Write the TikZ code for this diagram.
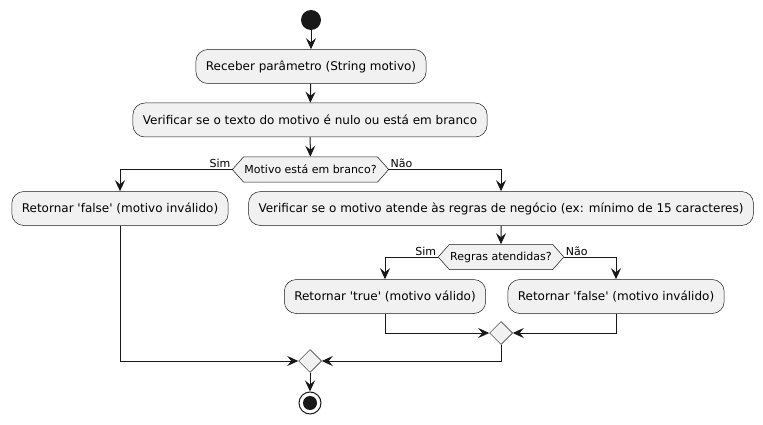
\documentclass[tikz,border=0pt]{standalone}
\usepackage{fontspec}
\setmainfont{DejaVu Sans}
\usetikzlibrary{arrows.meta,shapes.symbols,shapes.geometric}
\definecolor{umlfill}{HTML}{F1F1F1}
\definecolor{umlline}{HTML}{181818}

\begin{document}
\begin{tikzpicture}[x=1pt,y=1pt]
            \tikzstyle{every node}+=[inner sep=0pt]
            \tikzstyle{action}=[draw=umlline,line width=0.5pt,fill=umlfill,rounded corners=12pt,minimum height=34pt,inner xsep=10pt,font=\fontsize{12}{14}\selectfont]
            \tikzstyle{choice}=[signal,signal to=west and east,signal pointer angle=97,draw=umlline,line width=0.5pt,fill=umlfill,minimum height=25pt,inner xsep=1pt,font=\fontsize{11}{13}\selectfont]
            \tikzstyle{merge}=[diamond,draw=umlline,line width=0.5pt,fill=umlfill,minimum size=23pt]
            \tikzstyle{flow}=[line width=1pt,umlline,-{Stealth[length=11pt,width=10pt,inset=4pt]}]
            \tikzstyle{tag}=[font=\fontsize{11}{13}\selectfont,inner sep=1.5pt]
            \useasboundingbox (0,0) rectangle (763,-425);
            \node [circle,fill=umlline,minimum size=20pt] (start) at (311,-20) {};
            \node [action] (recv) at (311,-66.5) {Receber parâmetro (String motivo)};
            \node [action] (check) at (310,-120) {Verificar se o texto do motivo é nulo ou está em branco};
            \node [choice] (blank) at (310.5,-169.5) {Motivo está em branco?};
            \node [action] (fail1) at (120,-208.5) {Retornar \textquotesingle false\textquotesingle{} (motivo inválido)};
            \node [action] (rules) at (501,-208.5) {Verificar se o motivo atende às regras de negócio (ex: mínimo de 15 caracteres)};
            \node [choice] (met) at (501,-257) {Regras atendidas?};
            \node [action] (valid) at (385,-296.5) {Retornar \textquotesingle true\textquotesingle{} (motivo válido)};
            \node [action] (fail2) at (616,-296.5) {Retornar \textquotesingle false\textquotesingle{} (motivo inválido)};
            \node [merge] (join2) at (501,-333) {};
            \node [merge] (join1) at (310,-361) {};
            \node [circle,draw=umlline,line width=1pt,fill=white,minimum size=22pt] (stop) at (310,-403) {};
            \fill [umlline] (stop.center) circle (7);
            \draw [flow] (start) -- (recv);
            \draw [flow] (recv) -- (check);
            \draw [flow] (check) -- (blank);
            \draw [flow] (blank.west) -| (fail1.north);
            \draw (blank.west) node [tag,above left] {Sim};
            \draw [flow] (blank.east) -| (rules.north);
            \draw (blank.east) node [tag,above right] {Não};
            \draw [flow] (rules) -- (met);
            \draw [flow] (met.west) -| (valid.north);
            \draw (met.west) node [tag,above left] {Sim};
            \draw [flow] (met.east) -| (fail2.north);
            \draw (met.east) node [tag,above right] {Não};
            \draw [flow] (valid.south) |- (join2.west);
            \draw [flow] (fail2.south) |- (join2.east);
            \draw [flow] (join2.south) |- (join1.east);
            \draw [flow] (fail1.south) |- (join1.west);
            \draw [flow] (join1) -- (stop);
\end{tikzpicture}
\end{document}
